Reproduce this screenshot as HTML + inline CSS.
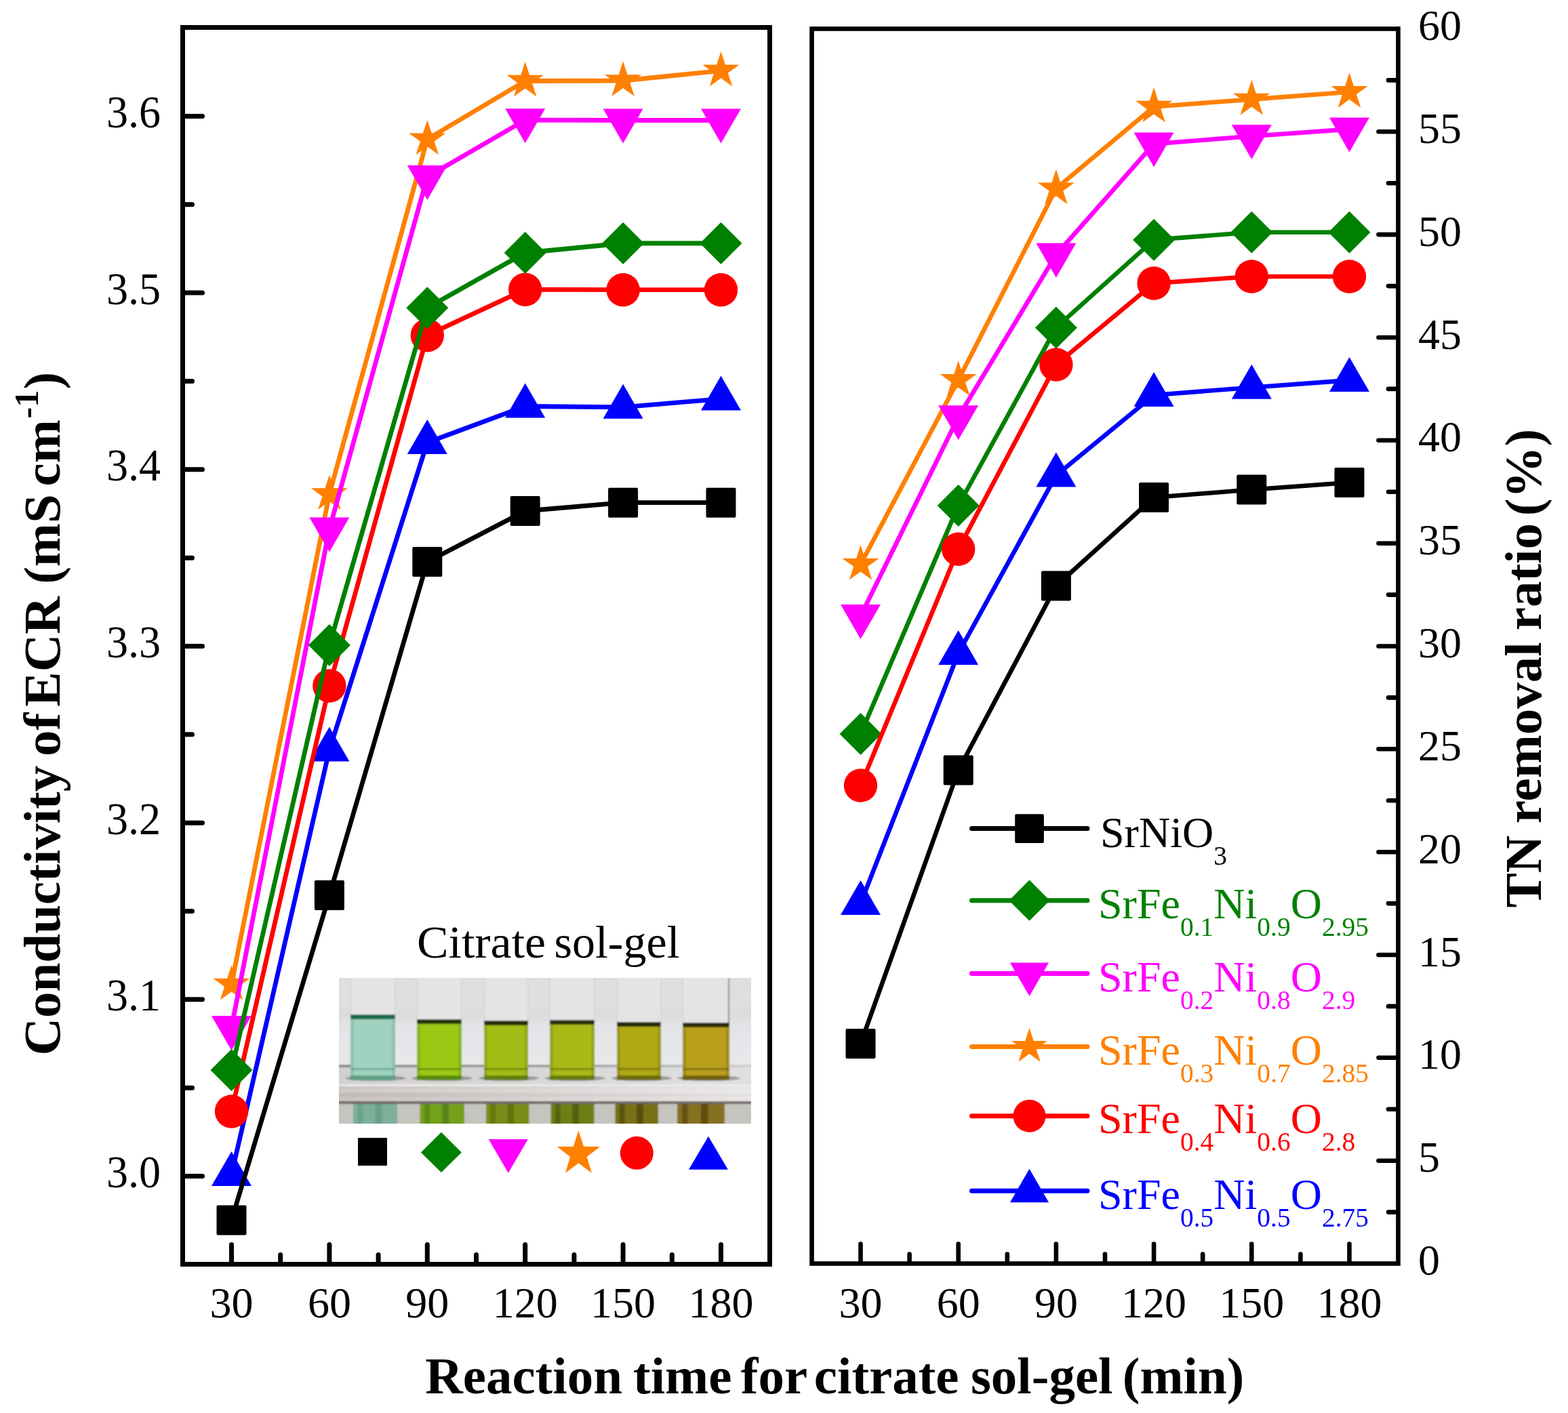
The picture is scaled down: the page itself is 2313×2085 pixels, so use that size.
<!DOCTYPE html><html><head><meta charset="utf-8"><style>html,body{margin:0;padding:0;background:#fff;}svg{display:block;}</style></head><body>
<svg width="2313" height="2085" viewBox="0 0 2313 2085">
<rect width="2313" height="2085" fill="#fff"/>
<polyline points="341.5,1733.0 485.9,1106.5 630.3,653.0 774.7,599.5 919.1,600.8 1063.5,588.6" fill="none" stroke="#0000FF" stroke-width="6.8" stroke-linejoin="round" stroke-linecap="round"/>
<polygon points="341.5,1699.0 371.0,1750.0 312.0,1750.0" fill="#0000FF"/>
<polygon points="485.9,1072.5 515.4,1123.5 456.4,1123.5" fill="#0000FF"/>
<polygon points="630.3,619.0 659.8,670.0 600.8,670.0" fill="#0000FF"/>
<polygon points="774.7,565.5 804.2,616.5 745.2,616.5" fill="#0000FF"/>
<polygon points="919.1,566.8 948.6,617.8 889.6,617.8" fill="#0000FF"/>
<polygon points="1063.5,554.6 1093.0,605.6 1034.0,605.6" fill="#0000FF"/>
<polyline points="341.5,1640.0 485.9,1012.0 630.3,494.7 774.7,427.2 919.1,427.7 1063.5,427.7" fill="none" stroke="#FF0000" stroke-width="6.8" stroke-linejoin="round" stroke-linecap="round"/>
<circle cx="341.5" cy="1640.0" r="24.7" fill="#FF0000"/>
<circle cx="485.9" cy="1012.0" r="24.7" fill="#FF0000"/>
<circle cx="630.3" cy="494.7" r="24.7" fill="#FF0000"/>
<circle cx="774.7" cy="427.2" r="24.7" fill="#FF0000"/>
<circle cx="919.1" cy="427.7" r="24.7" fill="#FF0000"/>
<circle cx="1063.5" cy="427.7" r="24.7" fill="#FF0000"/>
<polyline points="341.5,1452.5 485.9,729.0 630.3,205.4 774.7,119.5 919.1,119.0 1063.5,104.4" fill="none" stroke="#FF8000" stroke-width="6.8" stroke-linejoin="round" stroke-linecap="round"/>
<polygon points="341.5,1424.0 347.9,1443.7 368.6,1443.7 351.9,1455.9 358.3,1475.6 341.5,1463.4 324.7,1475.6 331.1,1455.9 314.4,1443.7 335.1,1443.7" fill="#FF8000"/>
<polygon points="485.9,700.5 492.3,720.2 513.0,720.2 496.3,732.4 502.7,752.1 485.9,739.9 469.1,752.1 475.5,732.4 458.8,720.2 479.5,720.2" fill="#FF8000"/>
<polygon points="630.3,176.9 636.7,196.6 657.4,196.6 640.7,208.8 647.1,228.5 630.3,216.3 613.5,228.5 619.9,208.8 603.2,196.6 623.9,196.6" fill="#FF8000"/>
<polygon points="774.7,91.0 781.1,110.7 801.8,110.7 785.1,122.9 791.5,142.6 774.7,130.4 757.9,142.6 764.3,122.9 747.6,110.7 768.3,110.7" fill="#FF8000"/>
<polygon points="919.1,90.5 925.5,110.2 946.2,110.2 929.5,122.4 935.9,142.1 919.1,129.9 902.3,142.1 908.7,122.4 892.0,110.2 912.7,110.2" fill="#FF8000"/>
<polygon points="1063.5,75.9 1069.9,95.6 1090.6,95.6 1073.9,107.8 1080.3,127.5 1063.5,115.3 1046.7,127.5 1053.1,107.8 1036.4,95.6 1057.1,95.6" fill="#FF8000"/>
<polyline points="341.5,1516.0 485.9,780.5 630.3,261.0 774.7,177.2 919.1,177.5 1063.5,177.5" fill="none" stroke="#FF00FF" stroke-width="6.8" stroke-linejoin="round" stroke-linecap="round"/>
<polygon points="341.5,1550.0 371.0,1499.0 312.0,1499.0" fill="#FF00FF"/>
<polygon points="485.9,814.5 515.4,763.5 456.4,763.5" fill="#FF00FF"/>
<polygon points="630.3,295.0 659.8,244.0 600.8,244.0" fill="#FF00FF"/>
<polygon points="774.7,211.2 804.2,160.2 745.2,160.2" fill="#FF00FF"/>
<polygon points="919.1,211.5 948.6,160.5 889.6,160.5" fill="#FF00FF"/>
<polygon points="1063.5,211.5 1093.0,160.5 1034.0,160.5" fill="#FF00FF"/>
<polyline points="341.5,1579.0 485.9,952.0 630.3,454.2 774.7,373.0 919.1,359.0 1063.5,359.0" fill="none" stroke="#008000" stroke-width="6.8" stroke-linejoin="round" stroke-linecap="round"/>
<polygon points="341.5,1548.0 372.5,1579.0 341.5,1610.0 310.5,1579.0" fill="#008000"/>
<polygon points="485.9,921.0 516.9,952.0 485.9,983.0 454.9,952.0" fill="#008000"/>
<polygon points="630.3,423.2 661.3,454.2 630.3,485.2 599.3,454.2" fill="#008000"/>
<polygon points="774.7,342.0 805.7,373.0 774.7,404.0 743.7,373.0" fill="#008000"/>
<polygon points="919.1,328.0 950.1,359.0 919.1,390.0 888.1,359.0" fill="#008000"/>
<polygon points="1063.5,328.0 1094.5,359.0 1063.5,390.0 1032.5,359.0" fill="#008000"/>
<polyline points="341.5,1800.5 485.9,1321.0 630.3,829.0 774.7,754.0 919.1,741.7 1063.5,741.7" fill="none" stroke="#000000" stroke-width="6.8" stroke-linejoin="round" stroke-linecap="round"/>
<rect x="319.5" y="1778.5" width="44.0" height="44.0" rx="2" fill="#000000"/>
<rect x="463.9" y="1299.0" width="44.0" height="44.0" rx="2" fill="#000000"/>
<rect x="608.3" y="807.0" width="44.0" height="44.0" rx="2" fill="#000000"/>
<rect x="752.7" y="732.0" width="44.0" height="44.0" rx="2" fill="#000000"/>
<rect x="897.1" y="719.7" width="44.0" height="44.0" rx="2" fill="#000000"/>
<rect x="1041.5" y="719.7" width="44.0" height="44.0" rx="2" fill="#000000"/>
<polyline points="1269.5,1333.0 1413.7,964.0 1557.9,701.5 1702.1,583.0 1846.3,571.7 1990.5,561.1" fill="none" stroke="#0000FF" stroke-width="6.6" stroke-linejoin="round" stroke-linecap="round"/>
<polygon points="1269.5,1299.0 1299.0,1350.0 1240.0,1350.0" fill="#0000FF"/>
<polygon points="1413.7,930.0 1443.2,981.0 1384.2,981.0" fill="#0000FF"/>
<polygon points="1557.9,667.5 1587.4,718.5 1528.4,718.5" fill="#0000FF"/>
<polygon points="1702.1,549.0 1731.6,600.0 1672.6,600.0" fill="#0000FF"/>
<polygon points="1846.3,537.7 1875.8,588.7 1816.8,588.7" fill="#0000FF"/>
<polygon points="1990.5,527.1 2020.0,578.1 1961.0,578.1" fill="#0000FF"/>
<polyline points="1269.5,832.7 1413.7,560.8 1557.9,278.3 1702.1,157.5 1846.3,146.6 1990.5,135.8" fill="none" stroke="#FF8000" stroke-width="6.6" stroke-linejoin="round" stroke-linecap="round"/>
<polygon points="1269.5,804.2 1275.9,823.9 1296.6,823.9 1279.9,836.1 1286.3,855.8 1269.5,843.6 1252.7,855.8 1259.1,836.1 1242.4,823.9 1263.1,823.9" fill="#FF8000"/>
<polygon points="1413.7,532.3 1420.1,552.0 1440.8,552.0 1424.1,564.2 1430.5,583.9 1413.7,571.7 1396.9,583.9 1403.3,564.2 1386.6,552.0 1407.3,552.0" fill="#FF8000"/>
<polygon points="1557.9,249.8 1564.3,269.5 1585.0,269.5 1568.3,281.7 1574.7,301.4 1557.9,289.2 1541.1,301.4 1547.5,281.7 1530.8,269.5 1551.5,269.5" fill="#FF8000"/>
<polygon points="1702.1,129.0 1708.5,148.7 1729.2,148.7 1712.5,160.9 1718.9,180.6 1702.1,168.4 1685.3,180.6 1691.7,160.9 1675.0,148.7 1695.7,148.7" fill="#FF8000"/>
<polygon points="1846.3,118.1 1852.7,137.8 1873.4,137.8 1856.7,150.0 1863.1,169.7 1846.3,157.5 1829.5,169.7 1835.9,150.0 1819.2,137.8 1839.9,137.8" fill="#FF8000"/>
<polygon points="1990.5,107.3 1996.9,127.0 2017.6,127.0 2000.9,139.2 2007.3,158.9 1990.5,146.7 1973.7,158.9 1980.1,139.2 1963.4,127.0 1984.1,127.0" fill="#FF8000"/>
<polyline points="1269.5,909.0 1413.7,615.2 1557.9,375.8 1702.1,212.4 1846.3,201.0 1990.5,190.6" fill="none" stroke="#FF00FF" stroke-width="6.6" stroke-linejoin="round" stroke-linecap="round"/>
<polygon points="1269.5,943.0 1299.0,892.0 1240.0,892.0" fill="#FF00FF"/>
<polygon points="1413.7,649.2 1443.2,598.2 1384.2,598.2" fill="#FF00FF"/>
<polygon points="1557.9,409.8 1587.4,358.8 1528.4,358.8" fill="#FF00FF"/>
<polygon points="1702.1,246.4 1731.6,195.4 1672.6,195.4" fill="#FF00FF"/>
<polygon points="1846.3,235.0 1875.8,184.0 1816.8,184.0" fill="#FF00FF"/>
<polygon points="1990.5,224.6 2020.0,173.6 1961.0,173.6" fill="#FF00FF"/>
<polyline points="1269.5,1083.0 1413.7,746.0 1557.9,483.4 1702.1,353.9 1846.3,342.8 1990.5,342.8" fill="none" stroke="#008000" stroke-width="6.6" stroke-linejoin="round" stroke-linecap="round"/>
<polygon points="1269.5,1052.0 1300.5,1083.0 1269.5,1114.0 1238.5,1083.0" fill="#008000"/>
<polygon points="1413.7,715.0 1444.7,746.0 1413.7,777.0 1382.7,746.0" fill="#008000"/>
<polygon points="1557.9,452.4 1588.9,483.4 1557.9,514.4 1526.9,483.4" fill="#008000"/>
<polygon points="1702.1,322.9 1733.1,353.9 1702.1,384.9 1671.1,353.9" fill="#008000"/>
<polygon points="1846.3,311.8 1877.3,342.8 1846.3,373.8 1815.3,342.8" fill="#008000"/>
<polygon points="1990.5,311.8 2021.5,342.8 1990.5,373.8 1959.5,342.8" fill="#008000"/>
<polyline points="1269.5,1159.0 1413.7,810.3 1557.9,538.0 1702.1,418.0 1846.3,408.0 1990.5,408.0" fill="none" stroke="#FF0000" stroke-width="6.6" stroke-linejoin="round" stroke-linecap="round"/>
<circle cx="1269.5" cy="1159.0" r="24.7" fill="#FF0000"/>
<circle cx="1413.7" cy="810.3" r="24.7" fill="#FF0000"/>
<circle cx="1557.9" cy="538.0" r="24.7" fill="#FF0000"/>
<circle cx="1702.1" cy="418.0" r="24.7" fill="#FF0000"/>
<circle cx="1846.3" cy="408.0" r="24.7" fill="#FF0000"/>
<circle cx="1990.5" cy="408.0" r="24.7" fill="#FF0000"/>
<polyline points="1269.5,1540.0 1413.7,1136.5 1557.9,864.5 1702.1,734.0 1846.3,722.5 1990.5,712.0" fill="none" stroke="#000000" stroke-width="6.6" stroke-linejoin="round" stroke-linecap="round"/>
<rect x="1247.5" y="1518.0" width="44.0" height="44.0" rx="2" fill="#000000"/>
<rect x="1391.7" y="1114.5" width="44.0" height="44.0" rx="2" fill="#000000"/>
<rect x="1535.9" y="842.5" width="44.0" height="44.0" rx="2" fill="#000000"/>
<rect x="1680.1" y="712.0" width="44.0" height="44.0" rx="2" fill="#000000"/>
<rect x="1824.3" y="700.5" width="44.0" height="44.0" rx="2" fill="#000000"/>
<rect x="1968.5" y="690.0" width="44.0" height="44.0" rx="2" fill="#000000"/>
<g stroke="#000" fill="none" stroke-linecap="round">
<rect x="269.5" y="40.5" width="866" height="1825" stroke-width="7" stroke-linejoin="miter"/>
<rect x="1197.5" y="42.5" width="865" height="1822" stroke-width="6.6" stroke-linejoin="miter"/>
<line x1="341.5" y1="1862" x2="341.5" y2="1836.5" stroke-width="7"/>
<line x1="485.9" y1="1862" x2="485.9" y2="1836.5" stroke-width="7"/>
<line x1="630.3" y1="1862" x2="630.3" y2="1836.5" stroke-width="7"/>
<line x1="774.7" y1="1862" x2="774.7" y2="1836.5" stroke-width="7"/>
<line x1="919.1" y1="1862" x2="919.1" y2="1836.5" stroke-width="7"/>
<line x1="1063.5" y1="1862" x2="1063.5" y2="1836.5" stroke-width="7"/>
<line x1="413.7" y1="1862" x2="413.7" y2="1851.5" stroke-width="7"/>
<line x1="558.1" y1="1862" x2="558.1" y2="1851.5" stroke-width="7"/>
<line x1="702.5" y1="1862" x2="702.5" y2="1851.5" stroke-width="7"/>
<line x1="846.9" y1="1862" x2="846.9" y2="1851.5" stroke-width="7"/>
<line x1="991.3" y1="1862" x2="991.3" y2="1851.5" stroke-width="7"/>
<line x1="273" y1="1735.5" x2="298.5" y2="1735.5" stroke-width="7"/>
<line x1="273" y1="1474.8" x2="298.5" y2="1474.8" stroke-width="7"/>
<line x1="273" y1="1214.2" x2="298.5" y2="1214.2" stroke-width="7"/>
<line x1="273" y1="953.5" x2="298.5" y2="953.5" stroke-width="7"/>
<line x1="273" y1="692.8" x2="298.5" y2="692.8" stroke-width="7"/>
<line x1="273" y1="432.1" x2="298.5" y2="432.1" stroke-width="7"/>
<line x1="273" y1="171.5" x2="298.5" y2="171.5" stroke-width="7"/>
<line x1="273" y1="1605.2" x2="283.5" y2="1605.2" stroke-width="7"/>
<line x1="273" y1="1344.5" x2="283.5" y2="1344.5" stroke-width="7"/>
<line x1="273" y1="1083.8" x2="283.5" y2="1083.8" stroke-width="7"/>
<line x1="273" y1="823.2" x2="283.5" y2="823.2" stroke-width="7"/>
<line x1="273" y1="562.5" x2="283.5" y2="562.5" stroke-width="7"/>
<line x1="273" y1="301.8" x2="283.5" y2="301.8" stroke-width="7"/>
<line x1="1269.5" y1="1861" x2="1269.5" y2="1835.5" stroke-width="6.6"/>
<line x1="1413.7" y1="1861" x2="1413.7" y2="1835.5" stroke-width="6.6"/>
<line x1="1557.9" y1="1861" x2="1557.9" y2="1835.5" stroke-width="6.6"/>
<line x1="1702.1" y1="1861" x2="1702.1" y2="1835.5" stroke-width="6.6"/>
<line x1="1846.3" y1="1861" x2="1846.3" y2="1835.5" stroke-width="6.6"/>
<line x1="1990.5" y1="1861" x2="1990.5" y2="1835.5" stroke-width="6.6"/>
<line x1="1341.6" y1="1861" x2="1341.6" y2="1850.5" stroke-width="6.6"/>
<line x1="1485.8" y1="1861" x2="1485.8" y2="1850.5" stroke-width="6.6"/>
<line x1="1630.0" y1="1861" x2="1630.0" y2="1850.5" stroke-width="6.6"/>
<line x1="1774.2" y1="1861" x2="1774.2" y2="1850.5" stroke-width="6.6"/>
<line x1="1918.4" y1="1861" x2="1918.4" y2="1850.5" stroke-width="6.6"/>
<line x1="2059" y1="1712.7" x2="2033.5" y2="1712.7" stroke-width="6.6"/>
<line x1="2059" y1="1560.8" x2="2033.5" y2="1560.8" stroke-width="6.6"/>
<line x1="2059" y1="1409.0" x2="2033.5" y2="1409.0" stroke-width="6.6"/>
<line x1="2059" y1="1257.2" x2="2033.5" y2="1257.2" stroke-width="6.6"/>
<line x1="2059" y1="1105.3" x2="2033.5" y2="1105.3" stroke-width="6.6"/>
<line x1="2059" y1="953.5" x2="2033.5" y2="953.5" stroke-width="6.6"/>
<line x1="2059" y1="801.7" x2="2033.5" y2="801.7" stroke-width="6.6"/>
<line x1="2059" y1="649.8" x2="2033.5" y2="649.8" stroke-width="6.6"/>
<line x1="2059" y1="498.0" x2="2033.5" y2="498.0" stroke-width="6.6"/>
<line x1="2059" y1="346.1" x2="2033.5" y2="346.1" stroke-width="6.6"/>
<line x1="2059" y1="194.3" x2="2033.5" y2="194.3" stroke-width="6.6"/>
<line x1="2059" y1="1788.6" x2="2048" y2="1788.6" stroke-width="6.6"/>
<line x1="2059" y1="1636.7" x2="2048" y2="1636.7" stroke-width="6.6"/>
<line x1="2059" y1="1484.9" x2="2048" y2="1484.9" stroke-width="6.6"/>
<line x1="2059" y1="1333.1" x2="2048" y2="1333.1" stroke-width="6.6"/>
<line x1="2059" y1="1181.2" x2="2048" y2="1181.2" stroke-width="6.6"/>
<line x1="2059" y1="1029.4" x2="2048" y2="1029.4" stroke-width="6.6"/>
<line x1="2059" y1="877.6" x2="2048" y2="877.6" stroke-width="6.6"/>
<line x1="2059" y1="725.7" x2="2048" y2="725.7" stroke-width="6.6"/>
<line x1="2059" y1="573.9" x2="2048" y2="573.9" stroke-width="6.6"/>
<line x1="2059" y1="422.1" x2="2048" y2="422.1" stroke-width="6.6"/>
<line x1="2059" y1="270.2" x2="2048" y2="270.2" stroke-width="6.6"/>
<line x1="2059" y1="118.4" x2="2048" y2="118.4" stroke-width="6.6"/>
</g>
<g font-family="'Liberation Serif','Times New Roman',serif" font-size="64" fill="#000">
<text x="237" y="1752.0" text-anchor="end" transform="translate(0,1752.0) scale(1,1.06) translate(0,-1752.0)">3.0</text>
<text x="237" y="1491.3" text-anchor="end" transform="translate(0,1491.3) scale(1,1.06) translate(0,-1491.3)">3.1</text>
<text x="237" y="1230.7" text-anchor="end" transform="translate(0,1230.7) scale(1,1.06) translate(0,-1230.7)">3.2</text>
<text x="237" y="970.0" text-anchor="end" transform="translate(0,970.0) scale(1,1.06) translate(0,-970.0)">3.3</text>
<text x="237" y="709.3" text-anchor="end" transform="translate(0,709.3) scale(1,1.06) translate(0,-709.3)">3.4</text>
<text x="237" y="448.6" text-anchor="end" transform="translate(0,448.6) scale(1,1.06) translate(0,-448.6)">3.5</text>
<text x="237" y="188.0" text-anchor="end" transform="translate(0,188.0) scale(1,1.06) translate(0,-188.0)">3.6</text>
<text x="341.5" y="1943.5" text-anchor="middle">30</text>
<text x="1269.5" y="1943.5" text-anchor="middle">30</text>
<text x="485.9" y="1943.5" text-anchor="middle">60</text>
<text x="1413.7" y="1943.5" text-anchor="middle">60</text>
<text x="630.3" y="1943.5" text-anchor="middle">90</text>
<text x="1557.9" y="1943.5" text-anchor="middle">90</text>
<text x="774.7" y="1943.5" text-anchor="middle">120</text>
<text x="1702.1" y="1943.5" text-anchor="middle">120</text>
<text x="919.1" y="1943.5" text-anchor="middle">150</text>
<text x="1846.3" y="1943.5" text-anchor="middle">150</text>
<text x="1063.5" y="1943.5" text-anchor="middle">180</text>
<text x="1990.5" y="1943.5" text-anchor="middle">180</text>
<text x="2092" y="1881.0">0</text>
<text x="2092" y="1729.2">5</text>
<text x="2092" y="1577.3">10</text>
<text x="2092" y="1425.5">15</text>
<text x="2092" y="1273.7">20</text>
<text x="2092" y="1121.8">25</text>
<text x="2092" y="970.0">30</text>
<text x="2092" y="818.2">35</text>
<text x="2092" y="666.3">40</text>
<text x="2092" y="514.5">45</text>
<text x="2092" y="362.6">50</text>
<text x="2092" y="210.8">55</text>
<text x="2092" y="59.0">60</text>
</g>
<g font-family="'Liberation Serif','Times New Roman',serif" font-weight="bold" font-size="77" fill="#000">
<text transform="translate(87.5,1557.6) rotate(-90)">Conductivity</text>
<text transform="translate(87.5,1116) rotate(-90)">of</text>
<text transform="translate(87.5,1042.7) rotate(-90)">ECR</text>
<text transform="translate(87.5,861.85) rotate(-90)">(mS</text>
<text transform="translate(87.5,717.45) rotate(-90)">cm</text>
<text transform="translate(87.5,574.4) rotate(-90)">)</text>
<text transform="translate(56,617.4) rotate(-90)" font-size="50">-1</text>
<text transform="translate(2273,1339.5) rotate(-90)">TN</text>
<text transform="translate(2273,1215.3) rotate(-90)">removal</text>
<text transform="translate(2273,930.2) rotate(-90)">ratio</text>
<text transform="translate(2273,761.25) rotate(-90)">(%)</text>
<text x="627.15" y="2056">Reaction</text>
<text x="934" y="2056">time</text>
<text x="1092.8" y="2056">for</text>
<text x="1200.85" y="2056">citrate</text>
<text x="1431.9" y="2056">sol-gel</text>
<text x="1655.8" y="2056">(min)</text>
</g>
<line x1="1433.5" y1="1222.5" x2="1604" y2="1222.5" stroke="#000000" stroke-width="7" stroke-linecap="round"/>
<rect x="1497.2" y="1201.2" width="42.7" height="42.7" rx="2" fill="#000000"/>
<text x="1623" y="1249.7" font-family="'Liberation Serif','Times New Roman',serif" font-size="64" fill="#000000"><tspan>SrNiO</tspan><tspan dy="26" font-size="39.5">3</tspan></text>
<line x1="1433.5" y1="1328.7" x2="1604" y2="1328.7" stroke="#008000" stroke-width="7" stroke-linecap="round"/>
<polygon points="1518.5,1298.6 1548.6,1328.7 1518.5,1358.8 1488.4,1328.7" fill="#008000"/>
<text x="1620" y="1354.7" font-family="'Liberation Serif','Times New Roman',serif" font-size="64" fill="#008000"><tspan>SrFe</tspan><tspan dy="26" font-size="39.5">0.1</tspan><tspan dy="-26">Ni</tspan><tspan dy="26" font-size="39.5">0.9</tspan><tspan dy="-26">O</tspan><tspan dy="26" font-size="39.5">2.95</tspan></text>
<line x1="1433.5" y1="1436.6" x2="1604" y2="1436.6" stroke="#FF00FF" stroke-width="7" stroke-linecap="round"/>
<polygon points="1518.5,1470.1 1547.1,1420.6 1489.9,1420.6" fill="#FF00FF"/>
<text x="1620" y="1463" font-family="'Liberation Serif','Times New Roman',serif" font-size="64" fill="#FF00FF"><tspan>SrFe</tspan><tspan dy="26" font-size="39.5">0.2</tspan><tspan dy="-26">Ni</tspan><tspan dy="26" font-size="39.5">0.8</tspan><tspan dy="-26">O</tspan><tspan dy="26" font-size="39.5">2.9</tspan></text>
<line x1="1433.5" y1="1544.4" x2="1604" y2="1544.4" stroke="#FF8000" stroke-width="7" stroke-linecap="round"/>
<polygon points="1518.5,1516.8 1524.7,1535.9 1544.8,1535.9 1528.5,1547.7 1534.7,1566.8 1518.5,1555.0 1502.3,1566.8 1508.5,1547.7 1492.2,1535.9 1512.3,1535.9" fill="#FF8000"/>
<text x="1620" y="1570.9" font-family="'Liberation Serif','Times New Roman',serif" font-size="64" fill="#FF8000"><tspan>SrFe</tspan><tspan dy="26" font-size="39.5">0.3</tspan><tspan dy="-26">Ni</tspan><tspan dy="26" font-size="39.5">0.7</tspan><tspan dy="-26">O</tspan><tspan dy="26" font-size="39.5">2.85</tspan></text>
<line x1="1433.5" y1="1646.7" x2="1604" y2="1646.7" stroke="#FF0000" stroke-width="7" stroke-linecap="round"/>
<circle cx="1518.5" cy="1646.7" r="24.0" fill="#FF0000"/>
<text x="1620" y="1672.2" font-family="'Liberation Serif','Times New Roman',serif" font-size="64" fill="#FF0000"><tspan>SrFe</tspan><tspan dy="26" font-size="39.5">0.4</tspan><tspan dy="-26">Ni</tspan><tspan dy="26" font-size="39.5">0.6</tspan><tspan dy="-26">O</tspan><tspan dy="26" font-size="39.5">2.8</tspan></text>
<line x1="1433.5" y1="1757.2" x2="1604" y2="1757.2" stroke="#0000FF" stroke-width="7" stroke-linecap="round"/>
<polygon points="1518.5,1724.7 1547.1,1774.2 1489.9,1774.2" fill="#0000FF"/>
<text x="1620" y="1783.5" font-family="'Liberation Serif','Times New Roman',serif" font-size="64" fill="#0000FF"><tspan>SrFe</tspan><tspan dy="26" font-size="39.5">0.5</tspan><tspan dy="-26">Ni</tspan><tspan dy="26" font-size="39.5">0.5</tspan><tspan dy="-26">O</tspan><tspan dy="26" font-size="39.5">2.75</tspan></text>
<text x="614.9" y="1413" font-family="'Liberation Serif','Times New Roman',serif" font-size="68" fill="#000" transform="translate(614.9,0) scale(1.028,1) translate(-614.9,0)">Citrate</text>
<text x="817.5" y="1413" font-family="'Liberation Serif','Times New Roman',serif" font-size="68" fill="#000">sol-gel</text>
<defs>
<filter id="bl" x="-5%" y="-5%" width="110%" height="110%"><feGaussianBlur stdDeviation="1.2"/></filter>
<clipPath id="pc"><rect x="500" y="1443" width="608" height="215"/></clipPath>
<linearGradient id="bg" x1="0" y1="0" x2="0" y2="1">
 <stop offset="0" stop-color="#dfdede"/><stop offset="0.3" stop-color="#e1e0e0"/><stop offset="0.42" stop-color="#dcdbdc"/>
 <stop offset="0.52" stop-color="#e2e3e6"/><stop offset="0.8" stop-color="#e6e7ea"/><stop offset="1" stop-color="#e8e8ea"/></linearGradient>
<linearGradient id="rkv" x1="0" y1="0" x2="0" y2="1">
 <stop offset="0" stop-color="#c4bebc"/><stop offset="0.3" stop-color="#d2cecc"/><stop offset="0.55" stop-color="#bcb6b4"/>
 <stop offset="0.8" stop-color="#ccc8c6"/><stop offset="1" stop-color="#c0bab8"/></linearGradient>
<linearGradient id="rkh" x1="0" y1="0" x2="1" y2="0">
 <stop offset="0" stop-color="#ffffff" stop-opacity="0"/><stop offset="0.45" stop-color="#ffffff" stop-opacity="0.25"/><stop offset="1" stop-color="#ffffff" stop-opacity="0.6"/></linearGradient>
<linearGradient id="toph" x1="0" y1="0" x2="1" y2="0">
 <stop offset="0" stop-color="#d2d0d0"/><stop offset="1" stop-color="#e0e0e0"/></linearGradient>
<linearGradient id="rimh" x1="0" y1="0" x2="1" y2="0">
 <stop offset="0" stop-color="#8c8a8a"/><stop offset="0.6" stop-color="#a8a6a6"/><stop offset="1" stop-color="#d0d0d0"/></linearGradient>
</defs>
<g clip-path="url(#pc)"><g filter="url(#bl)">
<rect x="495" y="1438" width="620" height="140" fill="url(#bg)"/>
<rect x="495" y="1572" width="620" height="29" fill="url(#toph)"/>
<rect x="495" y="1571" width="620" height="4" fill="url(#rimh)"/>
<rect x="517" y="1438" width="66" height="59" fill="#e4e4e5"/>
<rect x="516" y="1438" width="2" height="59" fill="#d6d6d7"/>
<rect x="582" y="1438" width="2" height="59" fill="#d6d6d7"/>
<ellipse cx="554.0" cy="1591" rx="45.0" ry="4" fill="#8a8888" opacity="0.8"/>
<rect x="517" y="1497" width="66" height="97" fill="#a0d2c0"/>
<rect x="517" y="1505" width="5" height="87" fill="#5f9f85" opacity="0.3"/>
<rect x="578" y="1505" width="5" height="87" fill="#5f9f85" opacity="0.3"/>
<rect x="517" y="1497" width="66" height="7" fill="#1d6a4c"/>
<rect x="517" y="1576" width="66" height="3" fill="#5f9f85" opacity="0.7"/>
<rect x="517" y="1587" width="66" height="7" fill="#5f9f85"/>
<rect x="615" y="1438" width="66" height="66" fill="#e4e4e5"/>
<rect x="614" y="1438" width="2" height="66" fill="#d6d6d7"/>
<rect x="680" y="1438" width="2" height="66" fill="#d6d6d7"/>
<ellipse cx="652.0" cy="1591" rx="45.0" ry="4" fill="#8a8888" opacity="0.8"/>
<rect x="615" y="1504" width="66" height="90" fill="#9cc816"/>
<rect x="615" y="1512" width="5" height="80" fill="#5a8a10" opacity="0.3"/>
<rect x="676" y="1512" width="5" height="80" fill="#5a8a10" opacity="0.3"/>
<rect x="615" y="1504" width="66" height="7" fill="#263608"/>
<rect x="615" y="1576" width="66" height="3" fill="#5a8a10" opacity="0.7"/>
<rect x="615" y="1587" width="66" height="7" fill="#5a8a10"/>
<rect x="714" y="1438" width="65" height="68" fill="#e4e4e5"/>
<rect x="713" y="1438" width="2" height="68" fill="#d6d6d7"/>
<rect x="778" y="1438" width="2" height="68" fill="#d6d6d7"/>
<ellipse cx="750.5" cy="1591" rx="44.5" ry="4" fill="#8a8888" opacity="0.8"/>
<rect x="714" y="1506" width="65" height="88" fill="#a4bd16"/>
<rect x="714" y="1514" width="5" height="78" fill="#62800e" opacity="0.3"/>
<rect x="774" y="1514" width="5" height="78" fill="#62800e" opacity="0.3"/>
<rect x="714" y="1506" width="65" height="7" fill="#283208"/>
<rect x="714" y="1576" width="65" height="3" fill="#62800e" opacity="0.7"/>
<rect x="714" y="1587" width="65" height="7" fill="#62800e"/>
<rect x="811" y="1438" width="66" height="67" fill="#e4e4e5"/>
<rect x="810" y="1438" width="2" height="67" fill="#d6d6d7"/>
<rect x="876" y="1438" width="2" height="67" fill="#d6d6d7"/>
<ellipse cx="848.0" cy="1591" rx="45.0" ry="4" fill="#8a8888" opacity="0.8"/>
<rect x="811" y="1505" width="66" height="89" fill="#a9b916"/>
<rect x="811" y="1513" width="5" height="79" fill="#667a0e" opacity="0.3"/>
<rect x="872" y="1513" width="5" height="79" fill="#667a0e" opacity="0.3"/>
<rect x="811" y="1505" width="66" height="7" fill="#2a3008"/>
<rect x="811" y="1576" width="66" height="3" fill="#667a0e" opacity="0.7"/>
<rect x="811" y="1587" width="66" height="7" fill="#667a0e"/>
<rect x="910" y="1438" width="65" height="70" fill="#e4e4e5"/>
<rect x="909" y="1438" width="2" height="70" fill="#d6d6d7"/>
<rect x="974" y="1438" width="2" height="70" fill="#d6d6d7"/>
<ellipse cx="946.5" cy="1591" rx="44.5" ry="4" fill="#8a8888" opacity="0.8"/>
<rect x="910" y="1508" width="65" height="86" fill="#b0a916"/>
<rect x="910" y="1516" width="5" height="76" fill="#6c6a0e" opacity="0.3"/>
<rect x="970" y="1516" width="5" height="76" fill="#6c6a0e" opacity="0.3"/>
<rect x="910" y="1508" width="65" height="7" fill="#2c2c08"/>
<rect x="910" y="1576" width="65" height="3" fill="#6c6a0e" opacity="0.7"/>
<rect x="910" y="1587" width="65" height="7" fill="#6c6a0e"/>
<rect x="1007" y="1438" width="69" height="71" fill="#e4e4e5"/>
<rect x="1006" y="1438" width="2" height="71" fill="#d6d6d7"/>
<rect x="1075" y="1438" width="2" height="71" fill="#d6d6d7"/>
<ellipse cx="1045.5" cy="1591" rx="46.5" ry="4" fill="#8a8888" opacity="0.8"/>
<rect x="1007" y="1509" width="69" height="85" fill="#b89f1c"/>
<rect x="1007" y="1517" width="5" height="75" fill="#706010" opacity="0.3"/>
<rect x="1071" y="1517" width="5" height="75" fill="#706010" opacity="0.3"/>
<rect x="1007" y="1509" width="69" height="7" fill="#2e2a08"/>
<rect x="1007" y="1576" width="69" height="3" fill="#706010" opacity="0.7"/>
<rect x="1007" y="1587" width="69" height="7" fill="#706010"/>
<rect x="495" y="1600" width="620" height="4" fill="#ecebea"/>
<rect x="495" y="1603" width="620" height="23" fill="url(#rkv)"/>
<rect x="495" y="1603" width="620" height="23" fill="url(#rkh)"/>
<rect x="495" y="1625" width="620" height="4" fill="#6e6868"/>
<rect x="495" y="1629" width="620" height="34" fill="#c6c4be"/>
<rect x="521" y="1629" width="65" height="34" fill="#7db09a"/>
<rect x="527.5" y="1629" width="7.8" height="34" fill="#5f9a82" opacity="0.6"/>
<rect x="553.5" y="1629" width="9.75" height="34" fill="#5f9a82" opacity="0.7"/>
<rect x="619.5" y="1629" width="65.5" height="34" fill="#74a01c"/>
<rect x="626.05" y="1629" width="7.859999999999999" height="34" fill="#4e7a10" opacity="0.6"/>
<rect x="652.25" y="1629" width="9.825" height="34" fill="#4e7a10" opacity="0.7"/>
<rect x="717" y="1629" width="63.5" height="34" fill="#7a8c18"/>
<rect x="723.35" y="1629" width="7.62" height="34" fill="#566a0c" opacity="0.6"/>
<rect x="748.75" y="1629" width="9.525" height="34" fill="#566a0c" opacity="0.7"/>
<rect x="812.5" y="1629" width="64.0" height="34" fill="#6e7e14"/>
<rect x="818.9" y="1629" width="7.68" height="34" fill="#4a5408" opacity="0.6"/>
<rect x="844.5" y="1629" width="9.6" height="34" fill="#4a5408" opacity="0.7"/>
<rect x="907.5" y="1629" width="63.5" height="34" fill="#787018"/>
<rect x="913.85" y="1629" width="7.62" height="34" fill="#4a400a" opacity="0.6"/>
<rect x="939.25" y="1629" width="9.525" height="34" fill="#4a400a" opacity="0.7"/>
<rect x="999" y="1629" width="70" height="34" fill="#867020"/>
<rect x="1006.0" y="1629" width="8.4" height="34" fill="#4e400c" opacity="0.6"/>
<rect x="1034.0" y="1629" width="10.5" height="34" fill="#4e400c" opacity="0.7"/>
<rect x="1074" y="1443" width="2" height="66" fill="#8a8a8a"/>
</g></g>
<rect x="528" y="1679" width="43" height="41" fill="#000000"/>
<polygon points="650.9,1670.8 680.9,1700.4 650.9,1730 620.9,1700.4" fill="#008000"/>
<polygon points="720.7,1681.1 778.9,1681.1 749.8,1730.8" fill="#FF00FF"/>
<polygon points="853.4,1667.9 861.0,1691.8 885.0,1691.9 865.7,1706.9 872.9,1730.9 853.4,1716.2 833.9,1730.9 841.1,1706.9 821.8,1691.9 845.8,1691.8" fill="#FF8000"/>
<circle cx="939.3" cy="1701.3" r="24.5" fill="#FF0000"/>
<polygon points="1044.9,1676.8 1073.9,1725.8 1015.9,1725.8" fill="#0000FF"/>
</svg></body></html>
